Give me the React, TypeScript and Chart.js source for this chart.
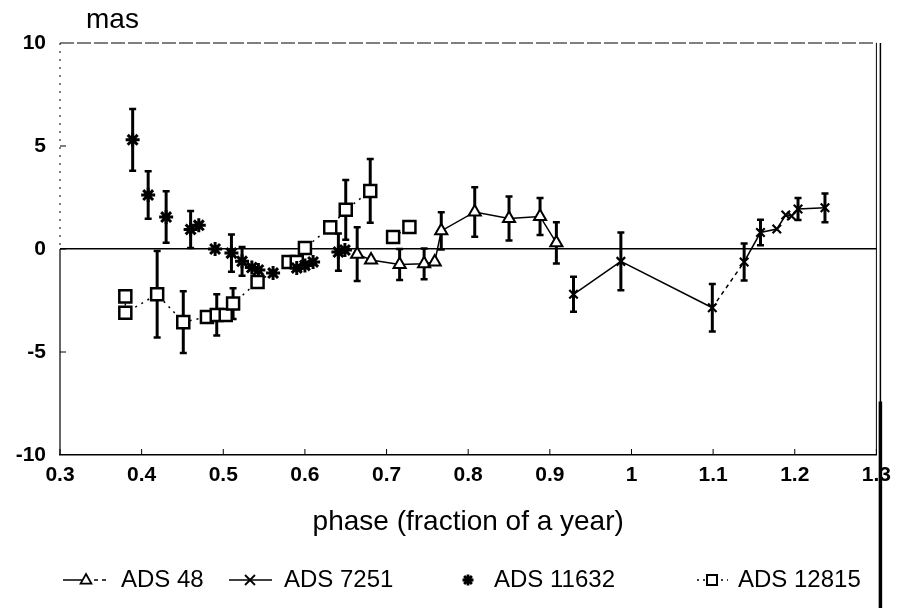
import React, { useEffect, useRef } from 'react';
import { Chart, registerables } from 'chart.js';
Chart.register(...registerables);

// ---- data (phase in fraction of a year, value in mas, error in mas) ----
const ads48Phase = [0.664, 0.681, 0.716, 0.746, 0.759, 0.767, 0.808, 0.85, 0.888, 0.908];
const ads48Value = [-0.25, -0.53, -0.75, -0.72, -0.63, 0.88, 1.8, 1.48, 1.58, 0.3];
const ads48Error = [1.3, 0, 0.75, 0.75, 0, 0.9, 1.2, 1.07, 0.9, 1.0];

const ads7251Phase = [0.929, 0.987, 1.099, 1.138, 1.158, 1.178, 1.189, 1.196, 1.204, 1.237];
const ads7251Value = [-2.2, -0.6, -2.85, -0.63, 0.8, 0.97, 1.65, 1.6, 1.94, 2.0];
const ads7251Error = [0.85, 1.4, 1.15, 0.9, 0.62, 0, 0, 0, 0.53, 0.7];

const ads11632Phase = [0.389, 0.408, 0.43, 0.46, 0.47, 0.49, 0.51, 0.523, 0.535, 0.543, 0.561, 0.59, 0.6, 0.61, 0.641, 0.649];
const ads11632Value = [5.3, 2.62, 1.55, 0.95, 1.15, 0.0, -0.2, -0.6, -0.9, -1.02, -1.17, -0.92, -0.8, -0.63, -0.15, -0.05];
const ads11632Error = [1.5, 1.15, 1.25, 0.9, 0, 0, 0.9, 0.7, 0, 0, 0, 0, 0, 0, 0.9, 0];

const ads12815Phase = [0.38, 0.38, 0.419, 0.451, 0.48, 0.492, 0.503, 0.512, 0.542, 0.58, 0.59, 0.6, 0.631, 0.65, 0.68, 0.69, 0.708, 0.728];
const ads12815Value = [-2.3, -3.1, -2.2, -3.55, -3.3, -3.2, -3.2, -2.65, -1.6, -0.63, -0.63, 0.05, 1.05, 1.9, 2.82, null, 0.58, 1.07];
const ads12815Error = [0, 0, 2.1, 1.5, 0, 1.0, 0, 0.75, 0, 0, 0, 0, 0, 1.45, 1.55, 0, 0, 0];

const xTickValues = [0.3, 0.4, 0.5, 0.6, 0.7, 0.8, 0.9, 1.0, 1.1, 1.2, 1.3];
const xTickLabels = ['0.3', '0.4', '0.5', '0.6', '0.7', '0.8', '0.9', '1', '1.1', '1.2', '1.3'];
const yTickValues = [-10, -5, 0, 5, 10];
const yTickLabels = ['-10', '-5', '0', '5', '10'];

const seriesNames = ['ADS 48', 'ADS 7251', 'ADS 11632', 'ADS 12815'];
const yAxisTitle = 'mas';
const xAxisTitle = 'phase (fraction of a year)';

const FONT = "'Liberation Sans', Arial, Helvetica, sans-serif";

const toPoints = (xs: number[], ys: (number | null)[]) => xs.map((x, i) => ({ x, y: ys[i] }));

function drawMarker(ctx: CanvasRenderingContext2D, style: string, x: number, y: number, r: number, lw: number) {
  ctx.save();
  ctx.strokeStyle = '#000';
  ctx.fillStyle = '#fff';
  ctx.lineWidth = lw;
  ctx.beginPath();
  if (style === 'triangle') {
    ctx.moveTo(x, y - r);
    ctx.lineTo(x + r * 0.9, y + r * 0.6);
    ctx.lineTo(x - r * 0.9, y + r * 0.6);
    ctx.closePath();
    ctx.fill();
    ctx.stroke();
  } else if (style === 'cross') {
    ctx.moveTo(x - r, y - r);
    ctx.lineTo(x + r, y + r);
    ctx.moveTo(x + r, y - r);
    ctx.lineTo(x - r, y + r);
    ctx.stroke();
  } else if (style === 'star') {
    for (let k = 0; k < 4; k++) {
      const a = (k * Math.PI) / 4;
      ctx.moveTo(x - r * Math.cos(a), y - r * Math.sin(a));
      ctx.lineTo(x + r * Math.cos(a), y + r * Math.sin(a));
    }
    ctx.stroke();
  } else if (style === 'rect') {
    ctx.rect(x - r, y - r, 2 * r, 2 * r);
    ctx.fill();
    ctx.stroke();
  }
  ctx.restore();
}

const errorBarPlugin = {
  id: 'errorBars',
  beforeDatasetsDraw(chart: any) {
    const ctx: CanvasRenderingContext2D = chart.ctx;
    const xs = chart.scales.x;
    const ys = chart.scales.y;
    ctx.save();
    ctx.strokeStyle = '#000';
    chart.data.datasets.forEach((ds: any) => {
      const errs: number[] = ds.errors || [];
      ds.data.forEach((p: any, i: number) => {
        const e = errs[i];
        if (!e || p.y === null) return;
        const px = xs.getPixelForValue(p.x);
        const top = ys.getPixelForValue(p.y + e);
        const bot = ys.getPixelForValue(p.y - e);
        ctx.lineWidth = 3;
        ctx.beginPath();
        ctx.moveTo(px, top);
        ctx.lineTo(px, bot);
        ctx.stroke();
        ctx.lineWidth = 2.5;
        ctx.beginPath();
        ctx.moveTo(px - 3.5, top);
        ctx.lineTo(px + 3.5, top);
        ctx.moveTo(px - 3.5, bot);
        ctx.lineTo(px + 3.5, bot);
        ctx.stroke();
      });
    });
    ctx.restore();
  },
};

const framePlugin = {
  id: 'frame',
  beforeDatasetsDraw(chart: any) {
    const ctx: CanvasRenderingContext2D = chart.ctx;
    const { left, right, top, bottom } = chart.chartArea;
    const xs = chart.scales.x;
    const ys = chart.scales.y;
    const zero = ys.getPixelForValue(0);
    ctx.save();
    ctx.strokeStyle = '#000';
    // top line (dashed)
    ctx.lineWidth = 1;
    ctx.setLineDash([14, 3]);
    ctx.beginPath();
    ctx.moveTo(left, top);
    ctx.lineTo(right, top);
    ctx.stroke();
    // upper left axis (faint dotted)
    ctx.setLineDash([2, 6]);
    ctx.beginPath();
    ctx.moveTo(left, top);
    ctx.lineTo(left, zero);
    ctx.stroke();
    ctx.setLineDash([]);
    // lower left axis
    ctx.lineWidth = 1.2;
    ctx.beginPath();
    ctx.moveTo(left, zero);
    ctx.lineTo(left, bottom);
    ctx.stroke();
    // right edge
    ctx.lineWidth = 1;
    ctx.beginPath();
    ctx.moveTo(right, top);
    ctx.lineTo(right, bottom);
    ctx.stroke();
    // x ticks (inside)
    ctx.lineWidth = 1;
    xTickValues.forEach((v) => {
      const px = xs.getPixelForValue(v);
      ctx.beginPath();
      ctx.moveTo(px, bottom);
      ctx.lineTo(px, bottom - 6);
      ctx.stroke();
    });
    // y ticks (inside)
    yTickValues.forEach((v) => {
      if (v === 10 || v === -10) return;
      const py = ys.getPixelForValue(v);
      ctx.beginPath();
      ctx.moveTo(left, py);
      ctx.lineTo(left + 6, py);
      ctx.stroke();
    });
    ctx.restore();
  },
  afterDraw(chart: any) {
    const ctx: CanvasRenderingContext2D = chart.ctx;
    const { right, top } = chart.chartArea;
    const ys = chart.scales.y;
    const H = chart.height;
    ctx.save();
    ctx.strokeStyle = '#000';
    // scanner edge line on the right
    ctx.lineWidth = 1.5;
    ctx.beginPath();
    ctx.moveTo(right + 4, top);
    ctx.lineTo(right + 4, H);
    ctx.stroke();
    ctx.lineWidth = 3.5;
    ctx.beginPath();
    ctx.moveTo(right + 4, ys.getPixelForValue(-7.4));
    ctx.lineTo(right + 4, H);
    ctx.stroke();
    ctx.restore();
  },
};

const textPlugin = {
  id: 'texts',
  afterDraw(chart: any) {
    const ctx: CanvasRenderingContext2D = chart.ctx;
    const { left, right, bottom } = chart.chartArea;
    ctx.save();
    ctx.fillStyle = '#000';
    ctx.strokeStyle = '#000';
    // y axis title
    ctx.font = `28px ${FONT}`;
    ctx.textAlign = 'left';
    ctx.textBaseline = 'alphabetic';
    ctx.fillText(yAxisTitle, left + 26, 28);
    // x axis title
    ctx.font = `28px ${FONT}`;
    ctx.textAlign = 'center';
    ctx.textBaseline = 'middle';
    ctx.fillText(xAxisTitle, (left + right) / 2, bottom + 67);
    // legend
    const ly = 580;
    ctx.font = `24px ${FONT}`;
    ctx.textAlign = 'left';
    ctx.textBaseline = 'middle';
    // ADS 48
    ctx.lineWidth = 1.5;
    ctx.beginPath();
    ctx.moveTo(63, ly);
    ctx.lineTo(86, ly);
    ctx.stroke();
    ctx.setLineDash([4, 4]);
    ctx.beginPath();
    ctx.moveTo(86, ly);
    ctx.lineTo(110, ly);
    ctx.stroke();
    ctx.setLineDash([]);
    drawMarker(ctx, 'triangle', 86, ly, 6, 1.8);
    ctx.fillText(seriesNames[0], 121, ly);
    // ADS 7251
    ctx.lineWidth = 1.5;
    ctx.beginPath();
    ctx.moveTo(229, ly);
    ctx.lineTo(272, ly);
    ctx.stroke();
    drawMarker(ctx, 'cross', 250, ly, 5, 1.8);
    ctx.fillText(seriesNames[1], 284, ly);
    // ADS 11632
    drawMarker(ctx, 'star', 468, ly, 5.5, 2.8);
    ctx.fillText(seriesNames[2], 494, ly);
    // ADS 12815
    ctx.lineWidth = 1.5;
    ctx.setLineDash([2, 4]);
    ctx.beginPath();
    ctx.moveTo(697, ly);
    ctx.lineTo(728, ly);
    ctx.stroke();
    ctx.setLineDash([]);
    drawMarker(ctx, 'rect', 712, ly, 5, 2);
    ctx.fillText(seriesNames[3], 738, ly);
    ctx.restore();
  },
};

export default function App() {
  const ref = useRef<HTMLCanvasElement>(null);
  useEffect(() => {
    const canvas = ref.current;
    if (!canvas) return;
    const chart = new Chart(canvas, {
      type: 'scatter',
      data: {
        datasets: [
          {
            label: seriesNames[0],
            data: toPoints(ads48Phase, ads48Value),
            errors: ads48Error,
            showLine: true,
            borderColor: '#000',
            borderWidth: 1.5,
            pointStyle: 'triangle',
            pointRadius: 7,
            pointBorderWidth: 2,
            pointBackgroundColor: '#fff',
            pointBorderColor: '#000',
          } as any,
          {
            label: seriesNames[1],
            data: toPoints(ads7251Phase, ads7251Value),
            errors: ads7251Error,
            showLine: true,
            borderColor: '#000',
            borderWidth: 1.5,
            segment: {
              borderDash: (c: any) => (c.p0DataIndex === 2 ? [4, 4] : undefined),
            },
            pointStyle: 'crossRot',
            pointRadius: 6,
            pointBorderWidth: 2.2,
            pointBackgroundColor: '#fff',
            pointBorderColor: '#000',
          } as any,
          {
            label: seriesNames[2],
            data: toPoints(ads11632Phase, ads11632Value),
            errors: ads11632Error,
            showLine: false,
            borderColor: '#000',
            pointStyle: 'star',
            pointRadius: 7,
            pointBorderWidth: 3,
            pointBackgroundColor: '#000',
            pointBorderColor: '#000',
          } as any,
          {
            label: seriesNames[3],
            data: toPoints(ads12815Phase, ads12815Value),
            errors: ads12815Error,
            showLine: true,
            spanGaps: false,
            borderColor: '#000',
            borderWidth: 1.5,
            borderDash: [2, 5],
            pointStyle: 'rect',
            pointRadius: 8.5,
            pointBorderWidth: 2.5,
            pointBackgroundColor: '#fff',
            pointBorderColor: '#000',
          } as any,
        ],
      },
      options: {
        responsive: false,
        animation: false,
        events: [],
        layout: { padding: { top: 43, right: 20, bottom: 0, left: 0 } },
        plugins: {
          legend: { display: false },
          tooltip: { enabled: false },
          title: { display: false },
        },
        scales: {
          x: {
            type: 'linear',
            min: 0.3,
            max: 1.3,
            afterBuildTicks: (s: any) => {
              s.ticks = xTickValues.map((v) => ({ value: v }));
            },
            afterFit: (s: any) => {
              s.height = 153;
            },
            grid: { display: true, color: 'rgba(0,0,0,0)', drawTicks: false },
            border: { display: true, color: '#000', width: 1.5 },
            ticks: {
              padding: 8,
              color: '#000',
              font: { family: FONT, size: 21, weight: 'bold' },
              maxRotation: 0,
              autoSkip: false,
              callback: (v: any) => {
                const i = xTickValues.findIndex((t) => Math.abs(t - Number(v)) < 1e-6);
                return i >= 0 ? xTickLabels[i] : '';
              },
            },
          },
          y: {
            type: 'linear',
            min: -10,
            max: 10,
            afterBuildTicks: (s: any) => {
              s.ticks = yTickValues.map((v) => ({ value: v }));
            },
            afterFit: (s: any) => {
              s.width = 60;
            },
            grid: {
              display: true,
              drawTicks: false,
              color: (c: any) => (c.tick && c.tick.value === 0 ? '#000' : 'rgba(0,0,0,0)'),
              lineWidth: 1.5,
            },
            border: { display: false },
            ticks: {
              padding: 14,
              color: '#000',
              font: { family: FONT, size: 21, weight: 'bold' },
              autoSkip: false,
              callback: (v: any) => {
                const i = yTickValues.indexOf(Number(v));
                return i >= 0 ? yTickLabels[i] : '';
              },
            },
          },
        },
      } as any,
      plugins: [errorBarPlugin, framePlugin, textPlugin],
    });
    return () => chart.destroy();
  }, []);
  return (
    <div style={{ position: 'fixed', left: 0, top: 0, width: 899, height: 608, background: '#fff' }}>
      <canvas ref={ref} width={899} height={608} style={{ width: 899, height: 608, display: 'block' }} />
    </div>
  );
}
